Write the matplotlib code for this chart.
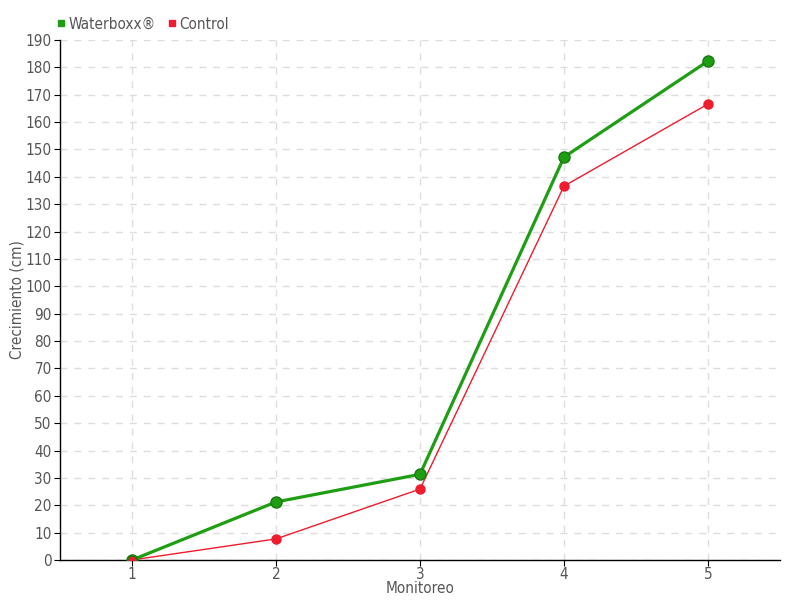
import matplotlib
matplotlib.use("Agg")
import matplotlib.pyplot as plt
from matplotlib.lines import Line2D

plt.rcParams['font.family'] = ['DejaVu Sans']
plt.rcParams['font.stretch'] = 'condensed'

monitoreo = [1, 2, 3, 4, 5]
waterboxx = [0, 21.2, 31.3, 147.2, 182.3]
control = [0, 7.7, 25.9, 136.6, 166.6]

green = '#1f9e14'
red = '#ee1c2e'
text_col = '#555555'

fig = plt.figure(figsize=(8, 6), dpi=100)
ax = fig.add_axes([0.075, 0.0667, 0.9, 0.8667])

ax.plot(monitoreo, control, color=red, lw=1, marker='o', ms=6.5,
        markeredgecolor=red, zorder=3)
ax.plot(monitoreo, waterboxx, color=green, lw=2.3, marker='o', ms=8,
        markeredgecolor='#1a7a12', markerfacecolor=green, zorder=4)
# first control point sits on top
ax.plot(monitoreo[:1], control[:1], 'o', color=red, ms=6.5,
        markeredgecolor='#1a7a12', zorder=5)

ax.set_xlim(0.5, 5.5)
ax.set_ylim(0, 190)
ax.set_xticks(monitoreo)
ax.set_yticks(range(0, 191, 10))
ax.tick_params(axis='both', colors='black', labelcolor=text_col, labelsize=11,
               length=4, direction='out')
ax.tick_params(axis='y', pad=2)
ax.tick_params(axis='x', pad=1)
ax.grid(True, color='#dddddd', linestyle=(0, (5, 5)), lw=1)
ax.set_axisbelow(True)
for s in ['top', 'right']:
    ax.spines[s].set_visible(False)
for s in ['left', 'bottom']:
    ax.spines[s].set_color('black')
    ax.spines[s].set_linewidth(1)

ax.set_xlabel('Monitoreo', color=text_col, fontsize=11, labelpad=-1)
ax.set_ylabel('Crecimiento (cm)', color=text_col, fontsize=11, labelpad=1)

handles = [Line2D([], [], marker='s', color=green, ls='', ms=4.5),
           Line2D([], [], marker='s', color=red, ls='', ms=4.5)]
fig.legend(handles, ['Waterboxx®', 'Control'], loc='upper left',
           bbox_to_anchor=(0.05, 0.995), ncol=2, frameon=False, fontsize=11,
           handletextpad=0.0, columnspacing=0.5, labelcolor=text_col,
           handlelength=1.0)

fig.savefig('out.png', dpi=100)
